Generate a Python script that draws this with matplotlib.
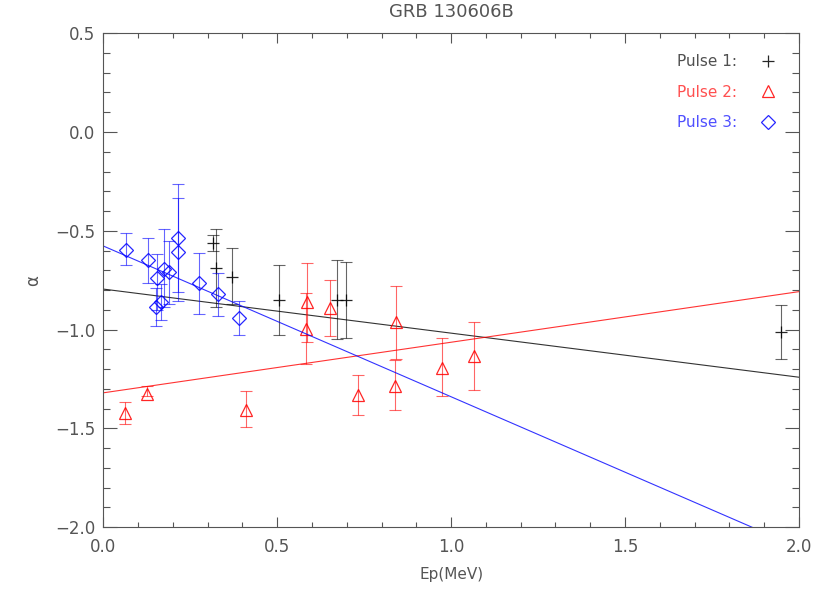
import matplotlib
matplotlib.use('Agg')
import matplotlib.pyplot as plt
import matplotlib.ticker as mticker
from matplotlib.lines import Line2D
import numpy as np

# --- data ---
# Pulse 1 (black, +)
p1_ep = [0.314, 0.325, 0.371, 0.506, 0.672, 0.699, 1.949]
p1_a = [-0.563, -0.689, -0.733, -0.851, -0.848, -0.848, -1.010]
p1_top = [-0.521, -0.489, -0.588, -0.674, -0.649, -0.656, -0.875]
p1_bot = [-0.602, -0.888, -0.871, -1.027, -1.047, -1.041, -1.150]

# Pulse 2 (red, triangles)
p2_ep = [0.062, 0.125, 0.410, 0.586, 0.582, 0.651, 0.733, 0.841, 0.840, 0.974, 1.066]
p2_a = [-1.423, -1.325, -1.405, -0.862, -0.997, -0.891, -1.329, -0.964, -1.283, -1.194, -1.132]
p2_top = [-1.367, -1.288, -1.313, -0.661, -0.815, -0.747, -1.228, -0.780, -1.152, -1.044, -0.964]
p2_bot = [-1.476, -1.338, -1.493, -1.063, -1.174, -1.033, -1.430, -1.149, -1.406, -1.338, -1.305]

# Pulse 3 (blue, diamonds)
p3_ep = [0.064, 0.129, 0.155, 0.151, 0.165, 0.175, 0.190, 0.214, 0.214, 0.275, 0.330, 0.391]
p3_a = [-0.595, -0.649, -0.741, -0.884, -0.858, -0.691, -0.711, -0.535, -0.605, -0.765, -0.820, -0.940]
p3_top = [-0.513, -0.538, -0.615, -0.790, -0.770, -0.493, -0.551, -0.265, -0.336, -0.610, -0.714, -0.857]
p3_bot = [-0.674, -0.765, -0.900, -0.984, -0.950, -0.888, -0.871, -0.812, -0.854, -0.923, -0.931, -1.026]

# linear fits: (intercept, slope)
FITS = {
    'p1': (-0.795, -0.223),
    'p2': (-1.320, 0.256),
    'p3': (-0.577, -0.763),
}

TXT = '#555555'
plt.rcParams['font.family'] = ['DejaVu Sans']

fig = plt.figure(figsize=(8.3, 5.93), dpi=100)
ax = fig.add_axes([0.1245, 0.111, 0.838, 0.833])

series = [
    ('p1', p1_ep, p1_a, p1_top, p1_bot, 'black', '+', 8, 'Pulse 1:'),
    ('p2', p2_ep, p2_a, p2_top, p2_bot, '#ff0000', '^', 9, 'Pulse 2:'),
    ('p3', p3_ep, p3_a, p3_top, p3_bot, '#0000ff', 'D', 7, 'Pulse 3:'),
]

xfit = np.array([0.0, 2.0])
handles = []
for key, ep, a, top, bot, col, mk, ms, lbl in series:
    a = np.array(a)
    yerr = [a - np.array(bot), np.array(top) - a]
    ax.errorbar(ep, a, yerr=yerr, fmt='none', ecolor=col, elinewidth=0.8,
                capsize=4, capthick=0.8, alpha=0.6)
    ax.plot(ep, a, linestyle='none', marker=mk, markersize=ms,
            markerfacecolor='none', markeredgecolor=col, markeredgewidth=0.9,
            alpha=0.85)
    b0, b1 = FITS[key]
    ax.plot(xfit, b0 + b1 * xfit, color=col, linewidth=0.8, alpha=0.8)
    handles.append(Line2D([], [], linestyle='none', marker=mk, markersize=ms,
                          markerfacecolor='none', markeredgecolor=col,
                          markeredgewidth=0.9, alpha=0.85, label=lbl))

leg = ax.legend(handles=handles, loc='upper right', frameon=False, markerfirst=False,
                fontsize=11, handletextpad=1.0, labelspacing=1.0,
                bbox_to_anchor=(0.997, 0.985))
for t, c in zip(leg.get_texts(), ['#505050', '#ff5050', '#5050ff']):
    t.set_color(c)

ax.set_xlim(0, 2.0)
ax.set_ylim(-2.0, 0.5)
ax.xaxis.set_major_locator(mticker.MultipleLocator(0.5))
ax.xaxis.set_minor_locator(mticker.MultipleLocator(0.1))
ax.yaxis.set_major_locator(mticker.MultipleLocator(0.5))
ax.yaxis.set_minor_locator(mticker.MultipleLocator(0.1))
fmt = mticker.FuncFormatter(lambda v, _: f'{v:.1f}'.replace('-', '\u2212'))
ax.xaxis.set_major_formatter(fmt)
ax.yaxis.set_major_formatter(fmt)

ax.tick_params(axis='both', which='both', direction='in', top=True, right=True,
               color=TXT, labelcolor=TXT, labelsize=12, width=0.8)
ax.tick_params(axis='x', which='major', length=7, pad=8)
ax.tick_params(axis='x', which='minor', length=3.5)
ax.tick_params(axis='y', which='major', length=10, pad=6)
ax.tick_params(axis='y', which='minor', length=5)
for sp in ax.spines.values():
    sp.set_color(TXT)
    sp.set_linewidth(0.8)

ax.set_title('GRB 130606B', fontsize=13, color=TXT, pad=12)
ax.set_xlabel('Ep(MeV)', fontsize=11, color=TXT, labelpad=8)
ax.set_ylabel('α', fontsize=12, color=TXT, labelpad=9)

fig.savefig('out.png', dpi=100)
